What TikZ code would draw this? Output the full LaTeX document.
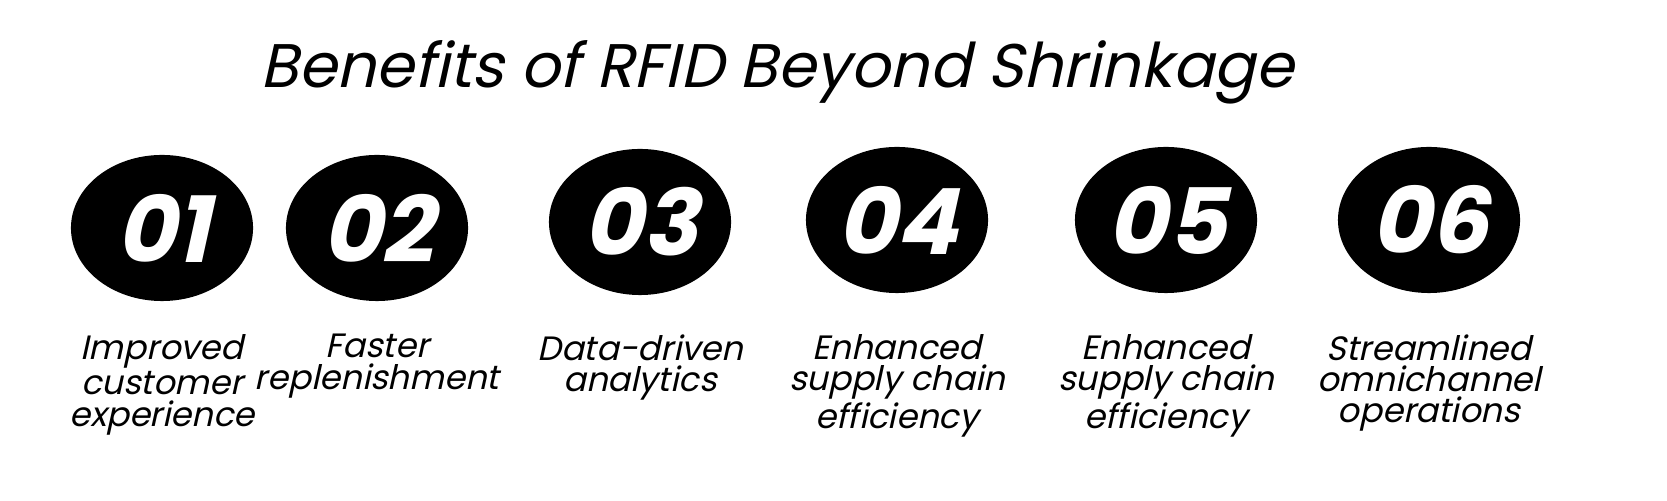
\documentclass[tikz,border=0pt]{standalone}
\usepackage{fontspec}
\usetikzlibrary{shapes.geometric}
\setmainfont{Poppins}[UprightFeatures={FakeSlant=0.22},BoldFeatures={FakeSlant=0.22}]
\begin{document}
\begin{tikzpicture}[x=0.01cm,y=-0.01cm]
  \tikzset{
    numdot/.style={ellipse, fill=black, minimum width=1.82cm, minimum height=1.46cm, inner sep=0pt,
      text=white, font=\fontsize{26}{26}\selectfont\bfseries},
    benefit/.style={align=center, font=\fontsize{9.6}{8.9}\selectfont}
  }
  \useasboundingbox (0,0) rectangle (1667,501);
  \node (title) at (777,72) {\fontsize{17.5}{20}\selectfont Benefits of RFID Beyond Shrinkage};
  \foreach \n/\x/\y/\txt in {01/162/228/{Improved\\customer\\experience},
                             02/377/228/{Faster\\replenishment},
                             03/640/222/{Data-driven\\analytics},
                             04/897/220/{Enhanced\\supply chain\\efficiency},
                             05/1166/220/{Enhanced\\supply chain\\efficiency},
                             06/1429/220/{Streamlined\\omnichannel\\operations}}{
    \node[numdot] (dot\n) at (\x,\y) {\n};
    \node[benefit, anchor=north] (lab\n) at (\x,322) {\txt};
  }
\end{tikzpicture}
\end{document}
